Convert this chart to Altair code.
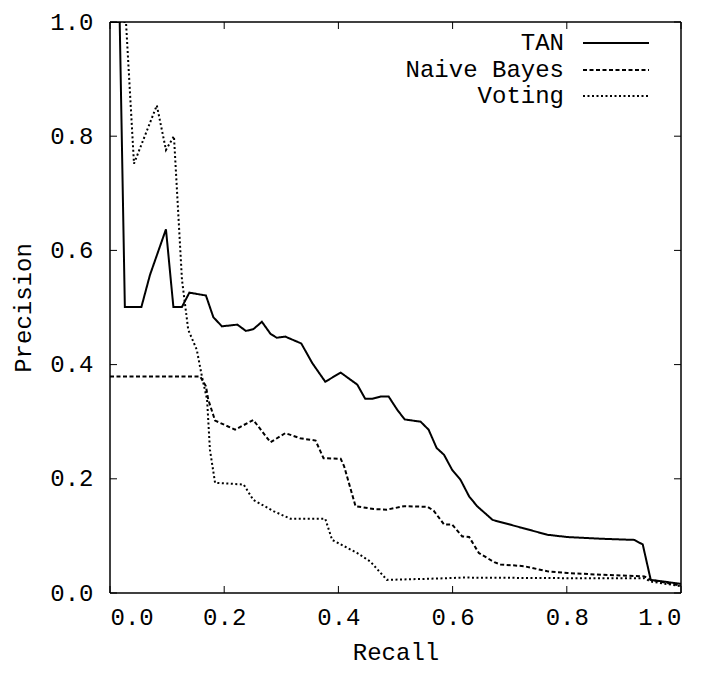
import altair as alt
import pandas as pd

series_names = ["TAN", "Naive Bayes", "Voting"]

tan_recall = [0.0, 0.017, 0.026, 0.055, 0.07, 0.098, 0.111, 0.126, 0.139, 0.168, 0.181, 0.196,
              0.223, 0.238, 0.251, 0.266, 0.281, 0.292, 0.307, 0.335, 0.354, 0.377, 0.404, 0.433,
              0.447, 0.459, 0.474, 0.488, 0.503, 0.516, 0.544, 0.558, 0.572, 0.585, 0.599, 0.614,
              0.629, 0.643, 0.67, 0.722, 0.766, 0.801, 0.86, 0.918, 0.933, 0.947, 1.0]
tan_prec = [1.0, 1.0, 0.501, 0.501, 0.557, 0.637, 0.501, 0.501, 0.526, 0.521, 0.483, 0.467,
            0.47, 0.459, 0.462, 0.475, 0.454, 0.447, 0.449, 0.437, 0.403, 0.37, 0.386, 0.365,
            0.34, 0.34, 0.344, 0.344, 0.321, 0.304, 0.30, 0.286, 0.254, 0.242, 0.216, 0.198,
            0.169, 0.152, 0.128, 0.114, 0.102, 0.098, 0.095, 0.093, 0.085, 0.023, 0.016]

nb_recall = [0.0, 0.158, 0.168, 0.172, 0.184, 0.219, 0.251, 0.281, 0.307, 0.333, 0.36, 0.374,
             0.404, 0.41, 0.43, 0.462, 0.485, 0.515, 0.556, 0.567, 0.585, 0.599, 0.617, 0.629,
             0.646, 0.673, 0.684, 0.725, 0.766, 0.801, 0.86, 0.936, 0.947, 1.0]
nb_prec = [0.379, 0.379, 0.362, 0.339, 0.302, 0.286, 0.303, 0.264, 0.28, 0.271, 0.267, 0.236,
           0.235, 0.222, 0.152, 0.147, 0.146, 0.152, 0.151, 0.144, 0.12, 0.12, 0.099, 0.098,
           0.07, 0.054, 0.05, 0.047, 0.038, 0.035, 0.032, 0.029, 0.023, 0.013]

vote_recall = [0.0, 0.028, 0.042, 0.082, 0.098, 0.112, 0.126, 0.137, 0.152, 0.161, 0.17, 0.175,
               0.184, 0.234, 0.251, 0.287, 0.316, 0.377, 0.389, 0.433, 0.456, 0.485, 0.561, 0.62,
               0.8, 0.936, 0.947, 1.0]
vote_prec = [1.0, 1.0, 0.752, 0.854, 0.776, 0.8, 0.549, 0.461, 0.426, 0.379, 0.339, 0.251,
             0.193, 0.19, 0.163, 0.143, 0.13, 0.13, 0.093, 0.07, 0.055, 0.023, 0.025, 0.027,
             0.026, 0.026, 0.02, 0.012]

tick_values = [0.0, 0.2, 0.4, 0.6, 0.8, 1.0]

rows = []
for name, rs, ps in zip(series_names, [tan_recall, nb_recall, vote_recall],
                        [tan_prec, nb_prec, vote_prec]):
    for i, (r, p) in enumerate(zip(rs, ps)):
        rows.append({"series": name, "recall": r, "precision": p, "idx": i})
df = pd.DataFrame(rows)

W = 571
H = 571
FONT = "Liberation Mono"
FS = 24
dashes = [[1, 0], [4, 2.5], [2, 2.5]]

xscale = alt.Scale(domain=[0, 1], nice=False, zero=False)
yscale = alt.Scale(domain=[0, 1], nice=False, zero=False)

common_axis = dict(labelFont=FONT, labelFontSize=FS, labelColor="black",
                   titleFont=FONT, titleFontSize=FS, titleFontWeight="normal",
                   titleColor="black", grid=False, ticks=False, domain=False)

x_axis = alt.Axis(values=tick_values, format=".1f", title="Recall",
                  labelPadding=12, titleX=W / 2, titleY=66,
                  titleBaseline="alphabetic", titleAlign="center", **common_axis)
y_axis = alt.Axis(values=tick_values, format=".1f", title="Precision",
                  labelPadding=17, titleX=-87, titleY=H / 2, titleAngle=270,
                  titleBaseline="middle", titleAlign="center", **common_axis)

X = alt.X("recall:Q", scale=xscale, axis=x_axis, title="Recall")
Y = alt.Y("precision:Q", scale=yscale, axis=y_axis, title="Precision")

lines = alt.Chart(df).mark_line(color="black", strokeWidth=2, clip=True).encode(
    x=X, y=Y,
    strokeDash=alt.StrokeDash("series:N", scale=alt.Scale(domain=series_names, range=dashes),
                              legend=None),
    order="idx:Q",
)

tick_df = pd.DataFrame({"recall": tick_values, "precision": tick_values})
TL = 7
bottom_ticks = alt.Chart(tick_df).mark_rule(color="black", strokeWidth=1).encode(
    x=X, y=alt.value(H), y2=alt.value(H - TL))
top_ticks = alt.Chart(tick_df).mark_rule(color="black", strokeWidth=1).encode(
    x=X, y=alt.value(0), y2=alt.value(TL))
left_ticks = alt.Chart(tick_df).mark_rule(color="black", strokeWidth=1).encode(
    y=Y, x=alt.value(0), x2=alt.value(TL))
right_ticks = alt.Chart(tick_df).mark_rule(color="black", strokeWidth=1).encode(
    y=Y, x=alt.value(W), x2=alt.value(W - TL))

frame_df = pd.DataFrame({"k": [0]})
frame_top = alt.Chart(frame_df).mark_rule(color="black", strokeWidth=1.5).encode(
    x=alt.value(0), x2=alt.value(W), y=alt.value(0))
frame_right = alt.Chart(frame_df).mark_rule(color="black", strokeWidth=1.5).encode(
    x=alt.value(W), y=alt.value(0), y2=alt.value(H))
frame_bottom = alt.Chart(frame_df).mark_rule(color="black", strokeWidth=1.5).encode(
    x=alt.value(0), x2=alt.value(W), y=alt.value(H))
frame_left = alt.Chart(frame_df).mark_rule(color="black", strokeWidth=1.5).encode(
    x=alt.value(0), y=alt.value(0), y2=alt.value(H))

legend_layers = []
row_y = [21, 48, 74]
for name, dash, yy in zip(series_names, dashes, row_y):
    ldf = pd.DataFrame({"series": [name]})
    legend_layers.append(
        alt.Chart(ldf).mark_text(align="right", baseline="middle", font=FONT, fontSize=FS,
                                 color="black").encode(
            text="series:N", x=alt.value(454), y=alt.value(yy)))
    legend_layers.append(
        alt.Chart(ldf).mark_rule(color="black", strokeWidth=2, strokeDash=dash).encode(
            x=alt.value(473), x2=alt.value(539), y=alt.value(yy)))

chart = alt.layer(lines, bottom_ticks, top_ticks, left_ticks, right_ticks,
                  frame_top, frame_right, frame_bottom, frame_left,
                  *legend_layers).properties(
    width=W, height=H,
    padding={"left": 102, "top": 14, "right": 18, "bottom": 72},
    autosize=alt.AutoSizeParams(type="none"),
    background="white",
).configure_view(
    stroke=None
)

chart.save("out.html", embed_options={"renderer": "svg", "actions": False})
